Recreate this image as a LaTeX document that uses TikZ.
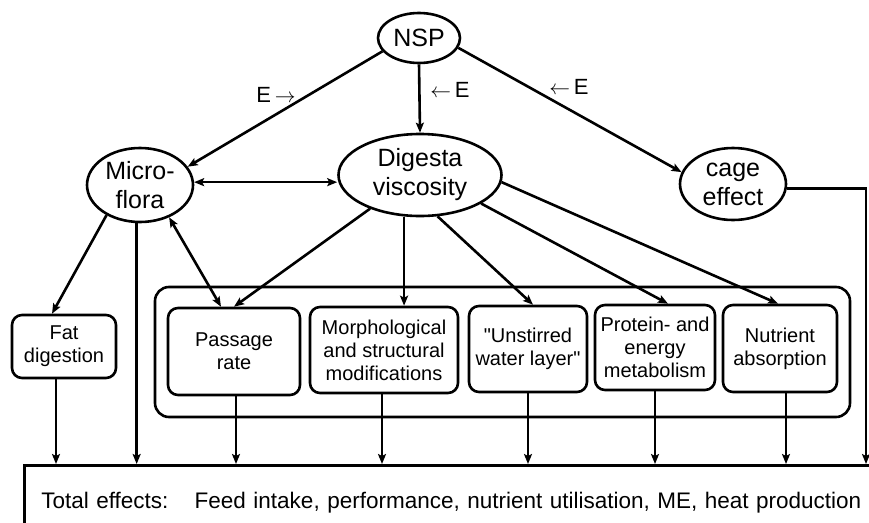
\documentclass[tikz,border=0pt]{standalone}
\usepackage{fontspec}
\setmainfont{Liberation Sans}
\newfontfamily\plainsans{Liberation Sans}
\usetikzlibrary{shapes.geometric,arrows.meta}
\begin{document}
\begin{tikzpicture}[x=1pt,y=-1pt,
  line width=2.6pt,
  >={Stealth[length=10pt,width=8pt,inset=2pt]},
  oval/.style={ellipse, draw, inner xsep=0pt, inner ysep=-5pt, align=center, font=\plainsans\fontsize{25}{29}\selectfont},
  inbox/.style={draw, rounded corners=10pt, align=center, inner sep=0pt, font=\plainsans\fontsize{20}{23}\selectfont},
  bigbox/.style={draw, rounded corners=14pt, inner sep=0pt},
  totalbox/.style={draw, inner ysep=0pt, inner xsep=17pt, align=left, font=\plainsans\fontsize{22.5}{26}\selectfont},
  elabel/.style={inner sep=0pt, font=\plainsans\fontsize{22}{26}\selectfont}
]
\useasboundingbox (0,0) rectangle (869,522);
\clip (0,0) rectangle (869,522);

% ovals
\node[oval, minimum width=82pt, minimum height=50pt] (nsp) at (419,38) {NSP};
\node[oval, minimum width=163pt, minimum height=82pt] (dv) at (420,175) {Digesta\\viscosity};
\node[oval, minimum width=106pt, minimum height=74pt] (mf) at (140,185) {Micro-\\flora};
\node[oval, minimum width=106pt, minimum height=72pt] (ce) at (733,184) {cage\\effect};

% E labels
\node[elabel] (e1) at (276,95) {E\,$\rightarrow$};
\node[elabel] (e2) at (450,90) {$\leftarrow$\,E};
\node[elabel] (e3) at (569,87) {$\leftarrow$\,E};

% container and boxes
\node[bigbox, minimum width=695pt, minimum height=130pt] (bb) at (502.5,352) {};
\node[inbox, minimum width=104pt, minimum height=63pt] (fd) at (64,346.5) {Fat\\digestion};
\node[inbox, minimum width=132pt, minimum height=87pt] (pr) at (234,351.5) {Passage\\rate};
\node[inbox, minimum width=148pt, minimum height=86pt] (mo) at (384,350) {Morphological\\and structural\\modifications};
\node[inbox, minimum width=118pt, minimum height=86pt] (us) at (528,349) {"Unstirred\\water layer"};
\node[inbox, minimum width=120pt, minimum height=85pt] (pe) at (655,347.5) {Protein- and\\energy\\metabolism};
\node[inbox, minimum width=114pt, minimum height=87pt] (na) at (780,348.5) {Nutrient\\absorption};

% total effects
\node[totalbox, anchor=north west, text width=846pt, minimum height=74pt] (te) at (23,464)
  {Total effects:\hspace{15pt} Feed intake, performance, nutrient utilisation, ME, heat production};

% connectors from NSP
\draw[->] (nsp.200) -- (mf.21);
\draw[->] (nsp.south) -- (dv.north);
\draw[->] (nsp.346) -- (ce.167);

% microflora <-> digesta
\draw[<->] (mf.3) -- (mf.3 -| dv.west);

% from digesta viscosity
\draw[->] (dv.214) -- (pr.north);
\draw[->] (dv.249) -- (dv.249 |- mo.north);
\draw[->] (dv.293) -- ([xshift=5pt]us.north);
\draw[->] (dv.335) -- ([xshift=13pt]pe.north);
\draw[->] (dv.355) -- ([xshift=-2pt]na.north);

% from microflora
\draw[->] (mf.222) -- ([xshift=-12pt]fd.north);
\draw[->] (mf.265) -- (mf.265 |- te.north);
\draw[<->] (mf.312) -- ([xshift=-13pt]pr.north);

% cage effect to total
\coordinate (cr) at (866,187);
\draw[->] (ce.355) -- (ce.355 -| cr) -- (cr |- te.north);

% down arrows to total effects
\coordinate (fdo) at ([xshift=-8pt]fd.south);
\coordinate (pro) at ([xshift=2pt]pr.south);
\coordinate (moo) at ([xshift=-2pt]mo.south);
\coordinate (naa) at ([xshift=6pt]na.south);
\draw[->] (fdo) -- (fdo |- te.north);
\draw[->] (pro) -- (pro |- te.north);
\draw[->] (moo) -- (moo |- te.north);
\draw[->] (us.south) -- (us.south |- te.north);
\draw[->] (pe.south) -- (pe.south |- te.north);
\draw[->] (naa) -- (naa |- te.north);
\end{tikzpicture}
\end{document}
